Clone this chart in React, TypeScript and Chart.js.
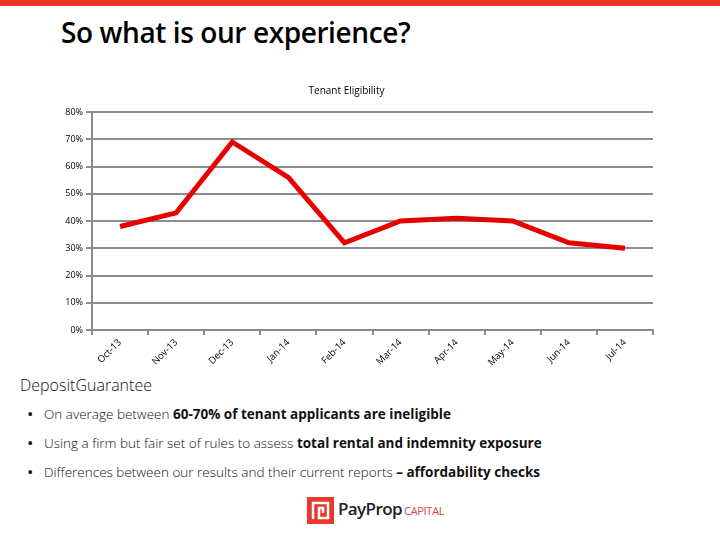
import React, { useEffect, useRef } from "react";
import { Chart, registerables } from "chart.js";

Chart.register(...registerables);

const months = ["Oct-13", "Nov-13", "Dec-13", "Jan-14", "Feb-14", "Mar-14", "Apr-14", "May-14", "Jun-14", "Jul-14"];
const eligibility = [38, 43, 69, 56, 32, 40, 41, 40, 32, 30];
const yTicks = [0, 10, 20, 30, 40, 50, 60, 70, 80];
const chartTitle = "Tenant Eligibility";

const GRID = "#8c8c8c";
const RED = "#e60000";

function EligibilityChart() {
  const ref = useRef<HTMLCanvasElement | null>(null);
  useEffect(() => {
    if (!ref.current) return;
    const chart = new Chart(ref.current, {
      type: "line",
      data: {
        labels: months,
        datasets: [
          {
            label: chartTitle,
            data: eligibility,
            borderColor: RED,
            backgroundColor: RED,
            borderWidth: 5,
            pointRadius: 0,
            tension: 0,
            borderJoinStyle: "miter",
          },
        ],
      },
      options: {
        responsive: false,
        animation: false,
        layout: { padding: { left: 0, right: 27, top: 0, bottom: 0 } },
        plugins: {
          legend: { display: false },
          tooltip: { enabled: false },
          title: {
            display: true,
            text: chartTitle,
            color: "#000",
            font: { family: "'Open Sans', sans-serif", size: 10, weight: "normal" },
            padding: { top: 5, bottom: 15 },
          },
        },
        scales: {
          x: {
            offset: true,
            grid: {
              offset: true,
              drawOnChartArea: false,
              drawTicks: true,
              tickLength: 5,
              color: GRID,
              lineWidth: 2,
            },
            border: { display: true, color: GRID, width: 2 },
            ticks: {
              minRotation: 45,
              maxRotation: 45,
              autoSkip: false,
              padding: 2,
              color: "#000",
              font: { family: "'Open Sans', sans-serif", size: 9.5 },
            },
            afterFit: (s: any) => {
              s.height = 40;
            },
          },
          y: {
            min: 0,
            max: 80,
            afterBuildTicks: (s: any) => {
              s.ticks = yTicks.map((v) => ({ value: v }));
            },
            grid: {
              color: GRID,
              lineWidth: 2,
              tickLength: 6,
              drawTicks: true,
            },
            border: { display: true, color: GRID, width: 2 },
            ticks: {
              padding: 3,
              color: "#000",
              font: { family: "'Open Sans', sans-serif", size: 9 },
              callback: (v: any) => v + "%",
            },
            afterFit: (s: any) => {
              s.width = 52;
            },
          },
        },
      },
    });
    return () => chart.destroy();
  }, []);
  return (
    <canvas
      ref={ref}
      width={640}
      height={290}
      style={{ position: "absolute", left: 40, top: 80, width: 640, height: 290 }}
    />
  );
}

const bodyFont = "'Open Sans', sans-serif";

export default function App() {
  const bullet = (top: number, children: React.ReactNode) => (
    <div style={{ position: "absolute", left: 0, top, width: 720, height: 20, fontSize: 13.5, lineHeight: "20px", color: "#111", fontFamily: bodyFont, fontWeight: 300, whiteSpace: "nowrap" }}>
      <span style={{ position: "absolute", left: 27, fontSize: 17, fontWeight: 400 }}>•</span>
      <span style={{ position: "absolute", left: 44 }}>{children}</span>
    </div>
  );
  return (
    <div style={{ position: "fixed", left: 0, top: 0, width: 720, height: 540, background: "#fff", overflow: "hidden" }}>
      <div style={{ position: "absolute", left: 0, top: 0, width: 720, height: 6, background: "#ec3528" }} />
      <div style={{ position: "absolute", left: 61, top: 13, fontFamily: bodyFont, fontSize: 28, fontWeight: 600, color: "#000", letterSpacing: -0.4, whiteSpace: "nowrap" }}>
        So what is our experience?
      </div>
      <EligibilityChart />
      <div style={{ position: "absolute", left: 20, top: 374, fontFamily: bodyFont, fontSize: 16, fontWeight: 300, color: "#111", whiteSpace: "nowrap" }}>
        DepositGuarantee
      </div>
      {bullet(404, <>On average between <b style={{ fontWeight: 700 }}>60-70% of tenant applicants are ineligible</b></>)}
      {bullet(433, <>Using a firm but fair set of rules to assess <b style={{ fontWeight: 700 }}>total rental and indemnity exposure</b></>)}
      {bullet(462, <>Differences between our results and their current reports <b style={{ fontWeight: 700 }}>– affordability checks</b></>)}
      <svg style={{ position: "absolute", left: 307, top: 497 }} width={27} height={27} viewBox="0 0 27 27">
        <rect x={0} y={0} width={27} height={27} fill="#e8392c" />
        <path d="M6 22 V6 H21 V21 H12 V11 H16 V16" fill="none" stroke="#fff" strokeWidth={2.5} />
      </svg>
      <div style={{ position: "absolute", left: 338, top: 497, fontFamily: "'Open Sans', sans-serif", fontSize: 17, fontWeight: 600, color: "#222", letterSpacing: -0.6, whiteSpace: "nowrap" }}>
        PayProp
      </div>
      <div style={{ position: "absolute", left: 404, top: 503, fontFamily: "'Open Sans', sans-serif", fontSize: 11, fontWeight: 400, color: "#d9453a", letterSpacing: -0.3, whiteSpace: "nowrap" }}>
        CAPITAL
      </div>
    </div>
  );
}
